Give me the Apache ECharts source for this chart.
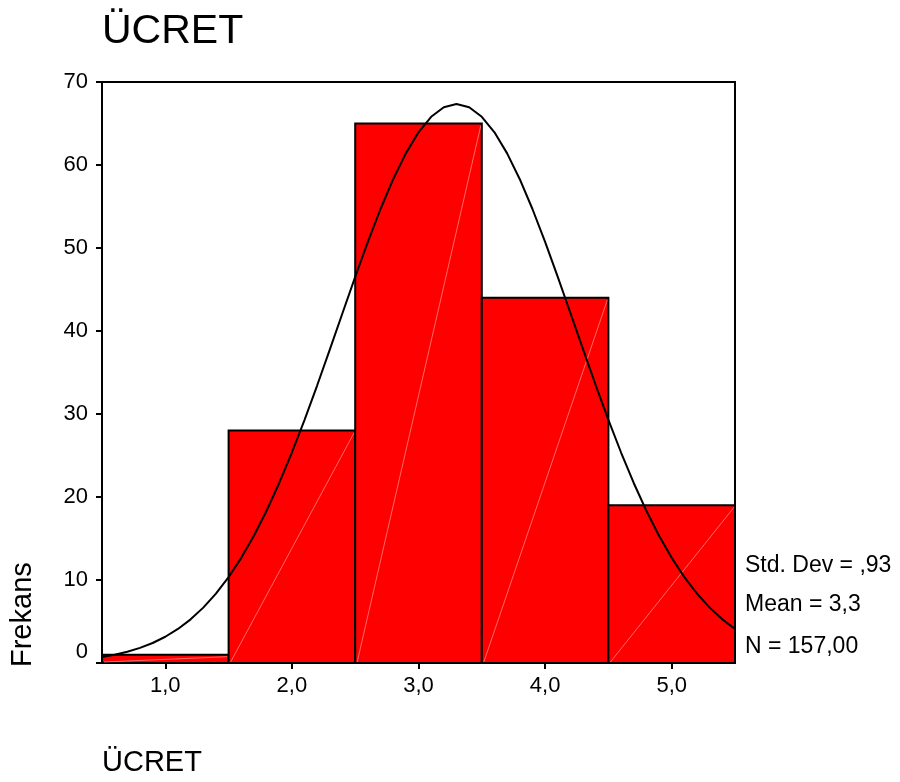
<!DOCTYPE html>
<html>
<head>
<meta charset="utf-8">
<script src="https://cdn.jsdelivr.net/npm/echarts@6/dist/echarts.min.js"></script>
<style>html,body{margin:0;padding:0;background:#fff}#c{width:900px;height:782px}</style>
</head>
<body>
<div id="c"></div>
<script>
// Histogram bins (centers) and counts
var binCenters = [1, 2, 3, 4, 5];
var binCounts = [1, 28, 65, 44, 19];
// Normal curve, values
var curveX = [0.5,0.6,0.7,0.8,0.9,1.0,1.1,1.2,1.3,1.4,1.5,1.6,1.7,1.8,1.9,2.0,2.1,2.2,2.3,2.4,2.5,2.6,2.7,2.8,2.9,3.0,3.1,3.2,3.3,3.4,3.5,3.6,3.7,3.8,3.9,4.0,4.1,4.2,4.3,4.4,4.5,4.6,4.7,4.8,4.9,5.0,5.1,5.2,5.3,5.4,5.5];
var curveY = [0.72,1.00,1.35,1.82,2.41,3.16,4.10,5.26,6.67,8.36,10.35,12.67,15.33,18.34,21.69,25.36,29.30,33.46,37.78,42.17,46.52,50.73,54.70,58.29,61.40,63.94,65.81,66.96,67.35,66.96,65.81,63.94,61.40,58.29,54.70,50.73,46.52,42.17,37.78,33.46,29.30,25.36,21.69,18.34,15.33,12.67,10.35,8.36,6.67,5.26,4.10];
var xTicks = [1, 2, 3, 4, 5];
var statLines = ['Std. Dev = ,93', 'Mean = 3,3', 'N = 157,00'];
var titleText = 'ÜCRET';
var xName = 'ÜCRET';
var yName = 'Frekans';

var FONT = 'Liberation Sans, Arial, sans-serif';
var chart = echarts.init(document.getElementById('c'));

var barData = binCenters.map(function (c, i) { return [c, binCounts[i]]; });
var lineData = curveX.map(function (x, i) { return [x, curveY[i]]; });

chart.setOption({
  animation: false,
  backgroundColor: '#fff',
  grid: { left: 102, right: 165, top: 82, bottom: 119, show: true, borderColor: '#000', borderWidth: 2, backgroundColor: 'transparent' },
  xAxis: {
    type: 'value', min: 0.5, max: 5.5,
    splitLine: { show: false },
    axisLine: { show: true, onZero: false, lineStyle: { color: '#000', width: 2 } },
    axisTick: { show: true, customValues: xTicks, length: 6, lineStyle: { color: '#000', width: 2 } },
    axisLabel: { customValues: xTicks, margin: 12, color: '#000', fontSize: 22, fontFamily: FONT,
      formatter: function (v) { return v.toFixed(1).replace('.', ','); } }
  },
  yAxis: {
    type: 'value', min: 0, max: 70, interval: 10,
    splitLine: { show: false },
    axisLine: { show: true, lineStyle: { color: '#000', width: 2 } },
    axisTick: { show: true, length: 6, lineStyle: { color: '#000', width: 2 } },
    axisLabel: { margin: 14, color: '#000', fontSize: 22, fontFamily: FONT,
      formatter: function (v) { return v === 0 ? '{z|0}' : String(v); },
      rich: { z: { fontSize: 22, fontFamily: FONT, color: '#000', padding: [0, 0, 22, 0] } } }
  },
  series: [
    {
      type: 'custom',
      data: barData,
      renderItem: function (params, api) {
        var c = api.value(0), v = api.value(1);
        var p0 = api.coord([c - 0.5, 0]);
        var p1 = api.coord([c + 0.5, v]);
        return {
          type: 'group',
          children: [
            { type: 'rect', shape: { x: p0[0], y: p1[1], width: p1[0] - p0[0], height: p0[1] - p1[1] },
              style: { fill: '#ff0000', stroke: '#000', lineWidth: 2 } },
            { type: 'line', shape: { x1: p0[0] + 2, y1: p0[1] - 1, x2: p1[0] - 1, y2: p1[1] + 2 },
              style: { stroke: 'rgba(255,190,190,0.55)', lineWidth: 1 } }
          ]
        };
      },
      z: 2
    },
    {
      type: 'line',
      data: lineData,
      showSymbol: false,
      symbol: 'none',
      smooth: false,
      lineStyle: { color: '#000', width: 2 },
      z: 3
    }
  ],
  graphic: [
    { type: 'text', left: 102, top: 11, style: { text: titleText, font: '41px ' + FONT, fill: '#000' } },
    { type: 'text', left: 102, top: 748, style: { text: xName, font: '29px ' + FONT, fill: '#000' } },
    { type: 'text', x: 8, y: 667, rotation: Math.PI / 2, style: { text: yName, font: '29px ' + FONT, fill: '#000', textAlign: 'left', textVerticalAlign: 'top' } },
    { type: 'text', left: 745, top: 554, style: { text: statLines[0], font: '23px ' + FONT, fill: '#000' } },
    { type: 'text', left: 745, top: 593, style: { text: statLines[1], font: '23px ' + FONT, fill: '#000' } },
    { type: 'text', left: 745, top: 635, style: { text: statLines[2], font: '23px ' + FONT, fill: '#000' } }
  ]
});
</script>
</body>
</html>
